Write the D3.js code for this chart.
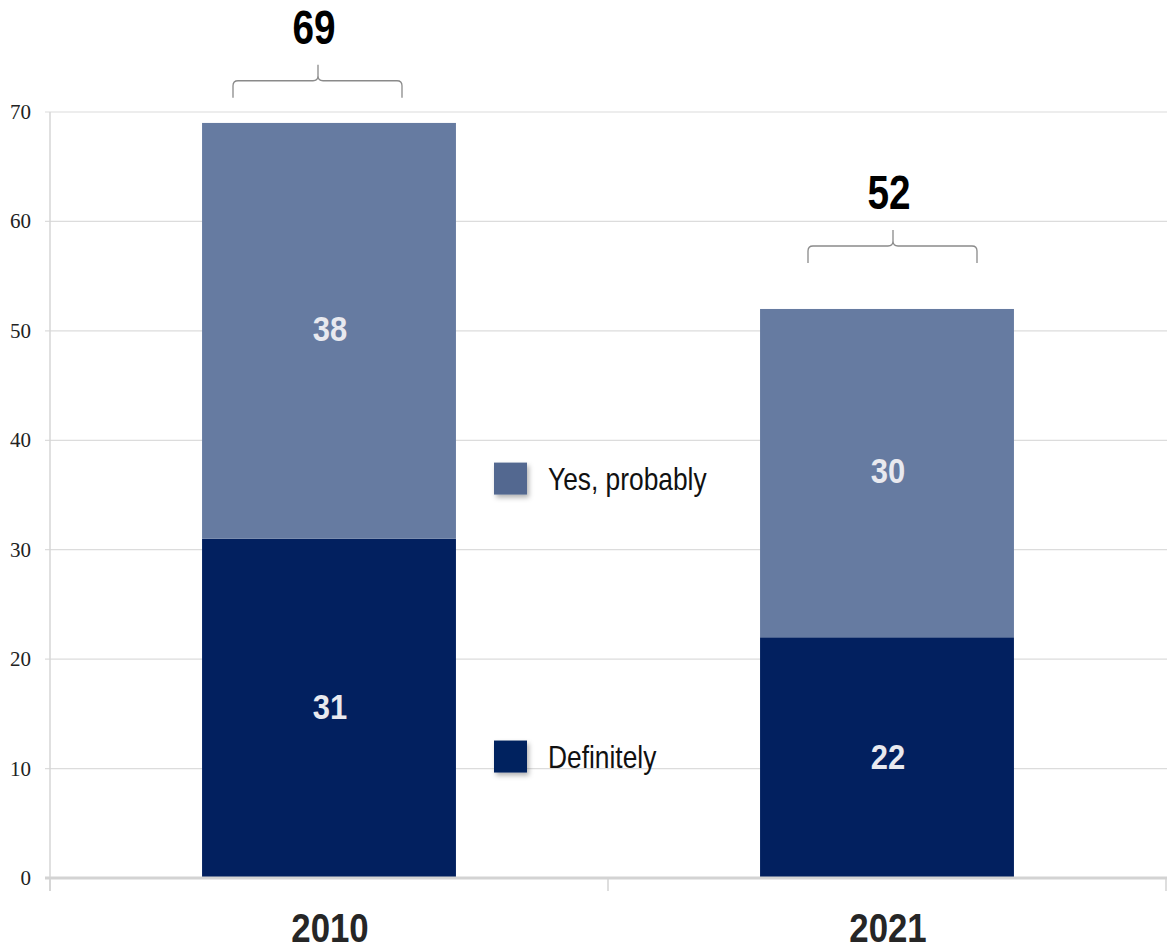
<!DOCTYPE html>
<html><head><meta charset="utf-8">
<script src="https://cdn.jsdelivr.net/npm/d3@7"></script>
<style>body{margin:0;background:#fff}svg{display:block}</style>
</head><body>
<svg id="c" width="1167" height="950"></svg>
<script>
const categories = ["2010", "2021"];
const definitely = [31, 22];
const probably = [38, 30];
const totals = [69, 52];
const yTicks = [0, 10, 20, 30, 40, 50, 60, 70];
const seriesNames = ["Yes, probably", "Definitely"];
const braceBottom = [71.3, 56.2];
const braceShift = [-11, 6];
const legendAt = [36.5, 11.1];

const svg = d3.select("#c");
const sans = "'Liberation Sans',Arial,sans-serif";
const W = 1167, plotLeft = 50, plotRight = 1166, plotTop = 112, plotBottom = 878;

const x = d3.scaleBand().domain(categories).range([plotLeft, plotRight]).padding(0);
const y = d3.scaleLinear().domain([0, 70]).range([plotBottom, plotTop]);
const barW = x.bandwidth() * 0.455;

// condensed text helper
function ntext(parent, tx, ty, str, size, sx, opts) {
  const t = parent.append("text")
    .attr("transform", `translate(${tx},${ty}) scale(${sx},1)`)
    .attr("font-family", sans).attr("font-size", size)
    .attr("text-anchor", opts.anchor || "middle")
    .attr("font-weight", opts.weight || "normal")
    .attr("fill", opts.fill || "#000")
    .text(str);
  return t;
}

const defs = svg.append("defs");
const f = defs.append("filter").attr("id", "sh").attr("x", "-30%").attr("y", "-30%").attr("width", "170%").attr("height", "170%");
f.append("feDropShadow").attr("dx", 2).attr("dy", 3).attr("stdDeviation", 2.5).attr("flood-color", "#000").attr("flood-opacity", 0.3);

// gridlines
svg.append("g").selectAll("line").data(yTicks.slice(1)).join("line")
  .attr("x1", 45).attr("x2", W).attr("y1", d => y(d)).attr("y2", d => y(d))
  .attr("stroke", "#dcdcdc").attr("stroke-width", 1.2);

// y axis line
svg.append("line").attr("x1", plotLeft).attr("x2", plotLeft).attr("y1", y(70)).attr("y2", plotBottom + 13)
  .attr("stroke", "#d6d6d6").attr("stroke-width", 1.5);

// y labels
svg.append("g").selectAll("text").data(yTicks).join("text")
  .attr("x", 31).attr("y", d => y(d) + 7).attr("text-anchor", "end")
  .attr("font-family", "'Liberation Serif','Times New Roman',serif").attr("font-size", 21).attr("fill", "#222")
  .text(d => d);

const colDark = "#02205f", colLight = "#667ba1";

const g = svg.append("g");
categories.forEach((c, i) => {
  const cx = x(c) + x.bandwidth() / 2;
  g.append("rect").attr("x", cx - barW / 2).attr("width", barW)
    .attr("y", y(definitely[i])).attr("height", y(0) - y(definitely[i])).attr("fill", colDark);
  g.append("rect").attr("x", cx - barW / 2).attr("width", barW)
    .attr("y", y(definitely[i] + probably[i])).attr("height", y(definitely[i]) - y(definitely[i] + probably[i])).attr("fill", colLight);
  ntext(g, cx + 1, y(definitely[i] / 2) + 11, definitely[i], 36, 0.86, {weight: "bold", fill: "#e8e9ef"});
  ntext(g, cx + 1, y(definitely[i] + probably[i] / 2) + 10, probably[i], 36, 0.86, {weight: "bold", fill: "#e8e9ef"});
  // brace
  const bx = cx + braceShift[i], hwL = 85, hwR = 84, yb = y(braceBottom[i]);
  const p = `M${bx - hwL},${yb} L${bx - hwL},${yb - 12} Q${bx - hwL},${yb - 17} ${bx - hwL + 5},${yb - 17} L${bx - 5},${yb - 17} Q${bx},${yb - 17} ${bx},${yb - 22} L${bx},${yb - 33} M${bx},${yb - 22} Q${bx},${yb - 17} ${bx + 5},${yb - 17} L${bx + hwR - 5},${yb - 17} Q${bx + hwR},${yb - 17} ${bx + hwR},${yb - 12} L${bx + hwR},${yb}`;
  svg.append("path").attr("d", p).attr("fill", "none").attr("stroke", "#8a8a8a").attr("stroke-width", 1.3);
  ntext(svg, bx - 4, yb - 54, totals[i], 49, 0.79, {weight: "bold", fill: "#000"});
  ntext(svg, cx + 1, 942, c, 40, 0.87, {weight: "bold", fill: "#262626"});
});

// x axis
svg.append("line").attr("x1", 45).attr("x2", W).attr("y1", plotBottom).attr("y2", plotBottom)
  .attr("stroke", "#d3d3d3").attr("stroke-width", 3);
svg.append("g").selectAll("line").data([plotLeft, x("2021"), plotRight]).join("line")
  .attr("x1", d => d).attr("x2", d => d).attr("y1", plotBottom).attr("y2", plotBottom + 13)
  .attr("stroke", "#d3d3d3").attr("stroke-width", 1.5);

// legend
const legCol = ["#536890", colDark];
seriesNames.forEach((s, i) => {
  const ly = y(legendAt[i]);
  svg.append("rect").attr("x", 494).attr("y", ly - 16).attr("width", 33).attr("height", 32)
    .attr("fill", legCol[i]).attr("filter", "url(#sh)");
  ntext(svg, 548, ly + 11, s, 31, 0.85, {anchor: "start", fill: "#111"});
});
</script>
</body></html>
